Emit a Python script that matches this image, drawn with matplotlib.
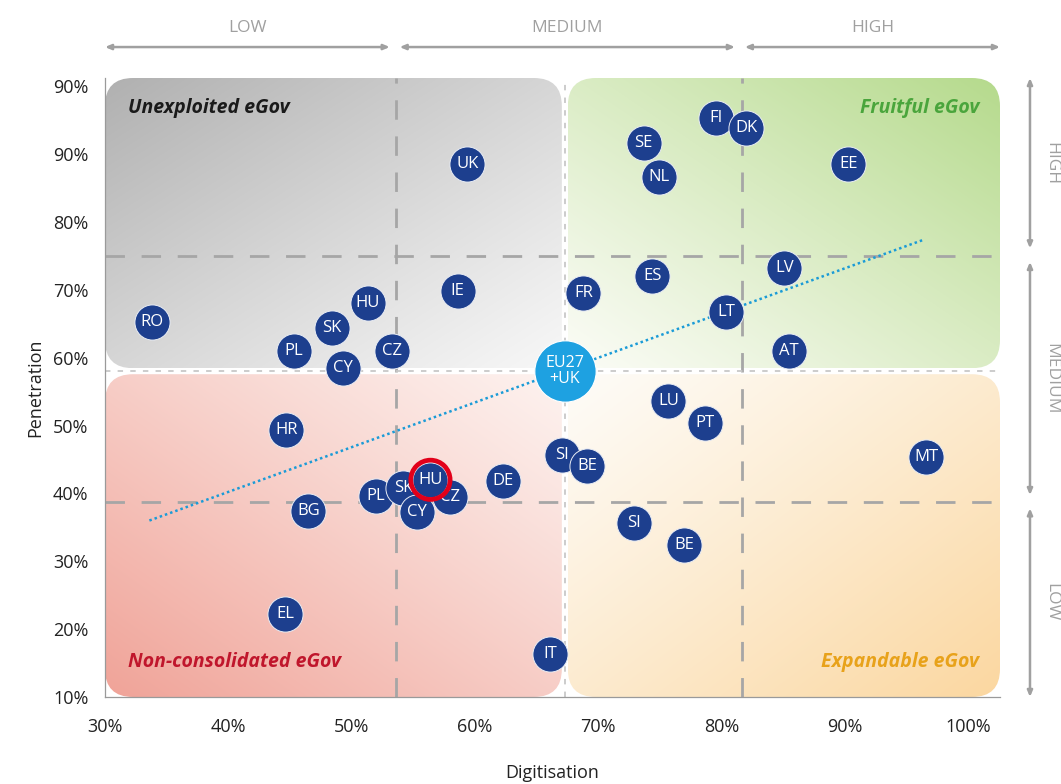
import numpy as np
import matplotlib
matplotlib.use("Agg")
import matplotlib.pyplot as plt
from matplotlib.patches import FancyBboxPatch
from matplotlib.colors import to_rgb

plt.rcParams['font.family'] = ['Open Sans', 'DejaVu Sans']

# --- data -------------------------------------------------------------
countries = ["RO", "PL", "SK", "CY", "HU", "CZ", "IE", "UK", "FR", "ES",
             "SE", "NL", "FI", "DK", "EE", "LV", "LT", "AT", "LU", "PT",
             "MT", "SI", "BE", "DE", "HR", "BG", "SI", "BE", "EL", "IT",
             "PL", "SK", "CY", "CZ", "HU"]
digitisation = [33.8, 45.3, 48.4, 49.3, 51.3, 53.3, 58.6, 59.4, 68.8, 74.4,
                73.7, 74.9, 79.6, 82.0, 90.3, 85.1, 80.4, 85.5, 75.7, 78.7,
                96.6, 67.1, 69.1, 62.3, 44.7, 46.5, 72.9, 77.0, 44.6, 66.1,
                52.0, 54.2, 55.3, 58.0, 56.4]
penetration = [65.2, 61.0, 64.3, 58.5, 68.0, 61.0, 69.8, 88.6, 69.5, 72.0,
               91.6, 86.6, 95.3, 93.8, 88.6, 73.2, 66.7, 61.0, 53.6, 50.4,
               45.3, 45.6, 44.0, 41.8, 49.3, 37.4, 35.6, 32.4, 22.2, 16.3,
               39.6, 40.8, 37.2, 39.5, 42.0]
highlight_index = len(countries) - 1

eu_label = "EU27\n+UK"
eu_digitisation = 67.3
eu_penetration = 58.0

trend_x = [33.6, 96.3]
trend_y = [36.0, 77.3]

digit_bands = ["LOW", "MEDIUM", "HIGH"]
digit_cuts = [53.6, 81.7]
pen_bands = ["LOW", "MEDIUM", "HIGH"]
pen_cuts = [38.7, 75.0]

x_ticks = [30, 40, 50, 60, 70, 80, 90, 100]
x_tick_labels = ["30%", "40%", "50%", "60%", "70%", "80%", "90%", "100%"]
y_ticks = [10, 20, 30, 40, 50, 60, 70, 80, 90, 100]
y_tick_labels = ["10%", "20%", "30%", "40%", "50%", "60%", "70%", "80%", "90%", "90%"]

quadrant_names = ["Unexploited eGov", "Fruitful eGov",
                  "Non-consolidated eGov", "Expandable eGov"]

# --- figure -----------------------------------------------------------
W, H = 1061, 784
fig = plt.figure(figsize=(W / 100, H / 100), dpi=100)
ax_l, ax_b, ax_r, ax_t = 105, 697, 1000, 78
ax = fig.add_axes([ax_l / W, (H - ax_b) / H, (ax_r - ax_l) / W, (ax_b - ax_t) / H])
xmin, xmax = 30, 102.6
ymin, ymax = 10, 101.2
ax.set_xlim(xmin, xmax)
ax.set_ylim(ymin, ymax)

px_per_x = (ax_r - ax_l) / (xmax - xmin)
px_per_y = (ax_b - ax_t) / (ymax - ymin)
aspect = px_per_x / px_per_y


def quadrant(x0, x1, y0, y1, inner, outer, corner):
    """Rounded rectangle filled with a diagonal gradient towards `corner`."""
    gap_x = 3 / px_per_x
    gap_y = 3 / px_per_y
    if corner[0] == 0:
        x1 -= gap_x
    else:
        x0 += gap_x
    if corner[1] == 0:
        y1 -= gap_y
    else:
        y0 += gap_y
    n = 200
    gx = np.linspace(0, 1, n)
    gy = np.linspace(0, 1, n)
    XX, YY = np.meshgrid(gx, gy)
    dx = XX if corner[0] == 1 else 1 - XX
    dy = YY if corner[1] == 1 else 1 - YY
    t = np.clip((dx + dy) / 2, 0, 1) ** 1.1
    c_in = np.array(to_rgb(inner))
    c_out = np.array(to_rgb(outer))
    img = c_in[None, None, :] * (1 - t[..., None]) + c_out[None, None, :] * t[..., None]
    patch = FancyBboxPatch((x0, y0), x1 - x0, y1 - y0,
                           boxstyle="round,pad=0,rounding_size=%f" % (28 / px_per_x),
                           mutation_aspect=aspect, facecolor="none",
                           edgecolor="none", zorder=0.5)
    ax.add_patch(patch)
    im = ax.imshow(img, extent=(x0, x1, y0, y1), origin="lower",
                   aspect="auto", zorder=0.4, interpolation="bilinear")
    im.set_clip_path(patch)


quadrant(xmin, eu_digitisation, eu_penetration, ymax, "#f7f7f7", "#b0b0b0", (0, 1))
quadrant(eu_digitisation, xmax, eu_penetration, ymax, "#fbfcf6", "#b5da8c", (1, 1))
quadrant(xmin, eu_digitisation, ymin, eu_penetration, "#fdf2ef", "#f0a398", (0, 0))
quadrant(eu_digitisation, xmax, ymin, eu_penetration, "#fefcf8", "#fbd7a0", (1, 0))
ax.set_xlim(xmin, xmax)
ax.set_ylim(ymin, ymax)

# band dividers
for c in digit_cuts:
    ax.axvline(c, color="#a6a6a6", lw=2, dashes=(7, 6), zorder=1)
for c in pen_cuts:
    ax.axhline(c, color="#a6a6a6", lw=2, dashes=(7, 6), zorder=1)
# EU average guides
ax.axvline(eu_digitisation, color="#c8c8c8", lw=1.3, dashes=(3, 4), zorder=1)
ax.axhline(eu_penetration, color="#c8c8c8", lw=1.3, dashes=(3, 4), zorder=1)

# trend line
ax.plot(trend_x, trend_y, color="#1a9bd7", lw=1.8, ls=(0, (1, 1.2)), zorder=2)

# country bubbles
for i, (c, x, y) in enumerate(zip(countries, digitisation, penetration)):
    ax.scatter([x], [y], s=640, color="#1d3f8e", edgecolors="#e8ecf4",
               linewidths=0.7, zorder=3 + i * 0.01)
    ax.text(x, y, c, color="white", fontsize=12, ha="center", va="center",
            zorder=3 + i * 0.01 + 0.005)
ax.scatter([digitisation[highlight_index]], [penetration[highlight_index]],
           s=800, facecolors="none", edgecolors="#e2001a", linewidths=3.4, zorder=4)

ax.scatter([eu_digitisation], [eu_penetration], s=1950, color="#1ea1e1",
           edgecolors="white", linewidths=0.8, zorder=4)
ax.text(eu_digitisation, eu_penetration, eu_label, color="white", fontsize=11.5,
        ha="center", va="center", linespacing=1.0, zorder=4.1)

# quadrant titles
qfont = dict(fontsize=14, fontstyle="italic", fontweight="bold", zorder=2)
ax.text(31.9, 96.8, quadrant_names[0], color="#1a1a1a", ha="left", va="center", **qfont)
ax.text(100.9, 96.8, quadrant_names[1], color="#4aa53c", ha="right", va="center", **qfont)
ax.text(31.9, 15.2, quadrant_names[2], color="#c0162c", ha="left", va="center", **qfont)
ax.text(100.9, 15.2, quadrant_names[3], color="#e8a21a", ha="right", va="center", **qfont)

# axes styling
for s in ["top", "right"]:
    ax.spines[s].set_visible(False)
for s in ["left", "bottom"]:
    ax.spines[s].set_color("#9a9a9a")
    ax.spines[s].set_linewidth(0.9)
ax.set_xticks(x_ticks)
ax.set_xticklabels(x_tick_labels)
ax.set_yticks(y_ticks)
ax.set_yticklabels(y_tick_labels)
ax.tick_params(axis="x", length=0, labelsize=13, colors="#222222", pad=15)
ax.tick_params(axis="y", length=0, labelsize=13, colors="#222222", pad=12)
ax.set_xlabel("Digitisation", fontsize=13, color="#222222", labelpad=20)
ax.set_ylabel("Penetration", fontsize=13, color="#222222", labelpad=6)

# band arrows along the top
arrow_kw = dict(arrowstyle="<|-|>,head_length=0.35,head_width=0.15",
                color="#a0a0a0", lw=1.8, shrinkA=0, shrinkB=0)
top_spans = [(xmin, 53.1), (53.9, 81.1), (81.9, xmax)]
for name, (a, b) in zip(digit_bands, top_spans):
    ax.annotate("", xy=(a, 1.05), xytext=(b, 1.05),
                xycoords=("data", "axes fraction"), textcoords=("data", "axes fraction"),
                arrowprops=arrow_kw, annotation_clip=False)
    ax.text((a + b) / 2, 1.08, name, transform=ax.get_xaxis_transform(),
            ha="center", va="center", fontsize=12.5, color="#a0a0a0")

# band arrows along the right
right_spans = [(ymin, 37.8), (39.75, 74.1), (76.1, ymax)]
for name, (a, b) in zip(pen_bands, right_spans):
    ax.annotate("", xy=(1.0335, a), xytext=(1.0335, b),
                xycoords=("axes fraction", "data"), textcoords=("axes fraction", "data"),
                arrowprops=arrow_kw, annotation_clip=False)
    ax.text(1.057, (a + b) / 2, name, transform=ax.get_yaxis_transform(),
            ha="center", va="center", fontsize=12.5, color="#a0a0a0", rotation=-90)

fig.savefig("out.png", dpi=100)
